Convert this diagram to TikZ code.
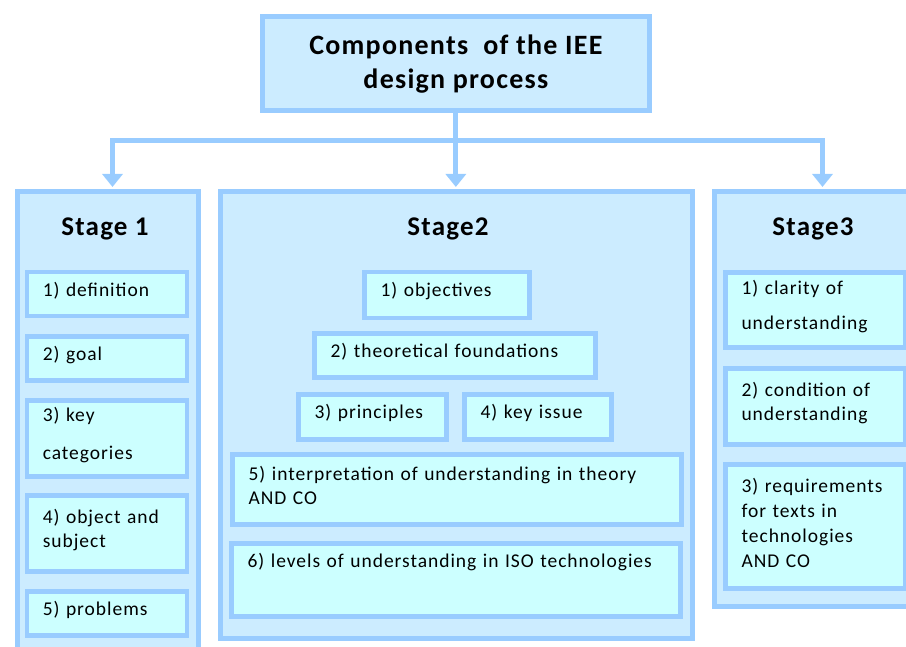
\documentclass[tikz,border=0pt]{standalone}
\usepackage{fontspec}
\setmainfont{Carlito}
\usepackage{xcolor}
\usetikzlibrary{arrows.meta}
\newfontfamily\itemfont[LetterSpace=5]{Carlito}
\newfontfamily\headfont[LetterSpace=4.5]{Carlito}
\definecolor{frameblue}{HTML}{99CCFF}
\definecolor{stagefill}{HTML}{CCECFF}
\definecolor{itemfill}{HTML}{CCFFFF}
\begin{document}
\begin{tikzpicture}[x=1pt, y=-1pt,
		stagebox/.style={draw=frameblue, fill=stagefill, line width=5pt, anchor=north west, inner sep=0pt},
		headbox/.style={stagebox, align=center, font=\headfont\bfseries\fontsize{28}{34}\selectfont},
		itembox/.style={draw=frameblue, fill=itemfill, line width=4.5pt, anchor=north west, align=left,
			inner xsep=16pt, inner ysep=0pt, font=\itemfont\fontsize{19.5}{24}\selectfont,
			execute at end node={\endgraf\vspace{8pt}}},
		stagetitle/.style={anchor=base, font=\headfont\bfseries\fontsize{27}{32}\selectfont},
		link/.style={draw=frameblue, line width=5pt},
		arrowed/.style={-{Triangle[width=20pt,length=13pt]}, shorten >=2.5pt}]
			\path[use as bounding box, clip] (0,0) rectangle (906,647);
			%   %   %   %   %   %   %   %   %   %   %
			%   Design process
				\node[headbox, minimum width=387.7pt, minimum height=93.7pt] (top) at (259.5,14.5)
				{Components\ \ of the IEE\\design process};
			%   %   %   %   %   %   %   %   %   %   %
			%   Stage boxes
				\node[stagebox, minimum width=181pt, minimum height=470pt] (stage1) at (14.5,189.5) {};
				\node[stagebox, minimum width=472.3pt, minimum height=446pt] (stage2) at (217.5,189.5) {};
				\node[stagebox, minimum width=216pt, minimum height=414.5pt] (stage3) at (712,189.5) {};
				\node[stagetitle] (title1) at (105,236) {Stage 1};
				\node[stagetitle] (title2) at (448,236) {Stage2};
				\node[stagetitle] (title3) at (813,236) {Stage3};
			%   %   %   %   %   %   %   %   %   %   %
			%   Stage 1
				\node[itembox, text width=128pt, minimum height=44pt] (definition) at (24.5,270) {1) definition};
				\node[itembox, text width=128pt, minimum height=44pt] (goal) at (24.5,334.3) {2) goal};
				\node[itembox, text width=128pt, minimum height=76pt] (categories) at (24.5,398.3)
				{3) key\\[14pt]categories};
				\node[itembox, text width=128pt, minimum height=76pt] (subject) at (24.5,493.3)
				{4) object and\\subject};
				\node[itembox, text width=128pt, minimum height=44pt] (problems) at (24.5,589.3) {5) problems};
			%   %   %   %   %   %   %   %   %   %   %
			%   Stage 2
				\node[itembox, text width=133pt, minimum height=46pt] (objectives) at (362.3,270) {1) objectives};
				\node[itembox, text width=249pt, minimum height=44pt] (foundations) at (312.3,331.3)
				{2) theoretical foundations};
				\node[itembox, text width=116pt, minimum height=45pt] (principles) at (296.3,392.3) {3) principles};
				\node[itembox, text width=115pt, minimum height=45pt] (issue) at (462.3,392.3) {4) key issue};
				\node[itembox, text width=417pt, minimum height=70pt] (interpretation) at (230.3,452.3)
				{5) interpretation of understanding in theory\\AND CO};
				\node[itembox, text width=417pt, minimum height=73pt] (levels) at (229.3,541.3)
				{6) levels of understanding in ISO technologies\\\strut};
			%   %   %   %   %   %   %   %   %   %   %
			%   Stage 3
				\node[itembox, text width=148pt, minimum height=75pt] (clarity) at (723.3,270.3)
				{1) clarity of\\[11pt]understanding};
				\node[itembox, text width=148pt, minimum height=76pt] (condition) at (723.3,366.3)
				{2) condition of\\understanding};
				\node[itembox, text width=148pt, minimum height=124pt] (requirements) at (723.3,462.3)
				{3) requirements\\[1pt]for texts in\\[1pt]technologies\\[1pt]AND CO};
			%   %   %   %   %   %   %   %   %   %   %
			%   Connectors
				\coordinate (hub) at (top.south |- 0,141);
				\draw[link] (top.south) -- (hub);
				\draw[link, arrowed] (hub) -| ([xshift=5pt]stage1.north);
				\draw[link, arrowed] (hub) -- (hub |- stage2.north);
				\draw[link, arrowed] (hub) -| (stage3.north);
\end{tikzpicture}
\end{document}
